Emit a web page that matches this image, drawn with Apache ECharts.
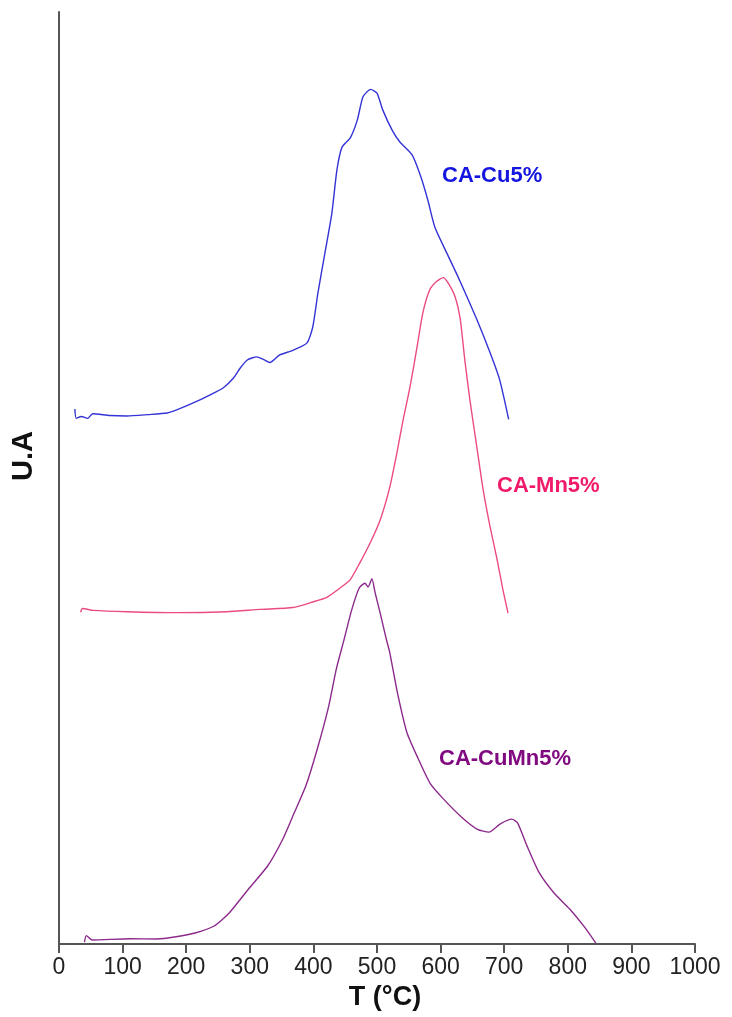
<!DOCTYPE html>
<html>
<head>
<meta charset="utf-8">
<script src="https://cdn.jsdelivr.net/npm/echarts@6/dist/echarts.min.js"></script>
<style>
html,body{margin:0;padding:0;background:#fff;}
#chart{width:732px;height:1017px;}
</style>
</head>
<body>
<div id="chart"></div>
<script>
// ---- data (temperature in °C, signal in arbitrary units) ----
var xTicks = [0, 100, 200, 300, 400, 500, 600, 700, 800, 900, 1000];

var cuT = [25, 27, 35, 45, 53, 80, 107, 140, 170, 185, 211, 237, 258, 274, 285, 296, 311, 322, 332, 347, 368, 390, 399, 407, 418, 429, 437, 445, 458, 469, 478, 490, 500, 509, 524, 536, 555, 568, 580, 591, 610, 630, 657, 678, 693, 707];
var cuV = [57.4, 56.4, 56.6, 56.4, 56.9, 56.7, 56.65, 56.8, 56.97, 57.3, 58.05, 58.9, 59.66, 60.7, 61.8, 62.66, 63.0, 62.7, 62.4, 63.2, 63.7, 64.5, 66.2, 69.8, 74.1, 78.4, 83.05, 85.5, 86.5, 88.4, 90.9, 91.7, 91.3, 89.5, 87.3, 86.05, 84.7, 82.5, 79.8, 76.9, 74.1, 71.2, 67.0, 63.4, 60.5, 56.3];

var mnT = [34, 37, 54, 107, 186, 264, 316, 368, 399, 421, 442, 458, 473, 489, 505, 520, 531, 541, 552, 563, 572, 583, 594, 604, 612, 623, 631, 638, 646, 657, 667, 678, 689, 698, 706];
var mnV = [35.6, 36.0, 35.8, 35.65, 35.55, 35.65, 35.9, 36.1, 36.7, 37.2, 38.2, 39.1, 40.9, 43.0, 45.5, 49.0, 52.6, 56.2, 59.8, 64.07, 67.7, 70.2, 71.1, 71.5, 70.9, 69.4, 67.0, 62.7, 58.4, 53.3, 48.7, 44.7, 41.2, 38.0, 35.5];

var cumnT = [40, 43, 52, 112, 154, 184, 214, 244, 268, 298, 328, 352, 370, 388, 406, 424, 436, 448, 460, 472, 481, 486, 492, 497, 505, 515, 520, 532, 547, 565, 583, 604, 634, 658, 676, 694, 712, 721, 736, 755, 778, 803, 827, 844];
var cumnV = [0.2, 0.9, 0.43, 0.57, 0.54, 0.78, 1.18, 1.93, 3.36, 5.9, 8.37, 11.27, 14.1, 16.95, 20.9, 25.5, 29.5, 32.6, 35.8, 38.2, 38.7, 38.3, 39.2, 37.7, 35.5, 32.6, 31.3, 27.0, 22.7, 19.85, 17.3, 15.6, 13.55, 12.3, 12.0, 12.9, 13.4, 13.0, 10.5, 7.65, 5.5, 3.75, 1.75, 0.1];

var seriesNames = ['CA-Cu5%', 'CA-Mn5%', 'CA-CuMn5%'];

function zip(a, b) { return a.map(function (v, i) { return [v, b[i]]; }); }

var chart = echarts.init(document.getElementById('chart'), null, {renderer: 'canvas'});
var FONT = 'Liberation Sans, Arial, sans-serif';
var axisColor = '#555555';

function lineSeries(name, data, color) {
  return {
    name: name, type: 'line', data: data, showSymbol: false, symbol: 'none',
    smooth: 0.2, lineStyle: {color: color, width: 1.4}, z: 3
  };
}

chart.setOption({
  animation: false,
  backgroundColor: '#ffffff',
  grid: {left: 59, right: 37, top: 12, bottom: 73, containLabel: false},
  xAxis: {
    type: 'value', min: xTicks[0], max: xTicks[xTicks.length - 1], interval: 100,
    axisLine: {show: true, lineStyle: {color: axisColor, width: 2}},
    axisTick: {show: true, inside: false, length: 9, lineStyle: {color: axisColor, width: 2}},
    axisLabel: {show: true, color: '#222222', fontSize: 23, fontFamily: 'Liberation Sans', margin: 12,
      formatter: function (v) { return String(v); }},
    splitLine: {show: false}
  },
  yAxis: {
    type: 'value', min: 0, max: 100,
    axisLine: {show: true, lineStyle: {color: axisColor, width: 2}},
    axisTick: {show: false},
    axisLabel: {show: false},
    splitLine: {show: false}
  },
  series: [
    lineSeries(seriesNames[0], zip(cuT, cuV), '#3333d6'),
    lineSeries(seriesNames[1], zip(mnT, mnV), '#ec4a85'),
    lineSeries(seriesNames[2], zip(cumnT, cumnV), '#8c2a8c')
  ],
  graphic: [
    {type: 'text', left: 442, top: 165, style: {text: seriesNames[0], fill: '#1515e0', font: 'bold 22px ' + FONT}},
    {type: 'text', left: 497, top: 475, style: {text: seriesNames[1], fill: '#f01a6a', font: 'bold 22px ' + FONT}},
    {type: 'text', left: 439, top: 748, style: {text: seriesNames[2], fill: '#800a80', font: 'bold 22px ' + FONT}},
    {type: 'text', x: 385, y: 998, style: {text: 'T (°C)', fill: '#111111', font: 'bold 27px ' + FONT, textAlign: 'center', textVerticalAlign: 'middle'}},
    {type: 'text', x: 24, y: 456, rotation: Math.PI / 2, style: {text: 'U.A', fill: '#111111', font: 'bold 29px ' + FONT, textAlign: 'center', textVerticalAlign: 'middle'}}
  ]
});
</script>
</body>
</html>
